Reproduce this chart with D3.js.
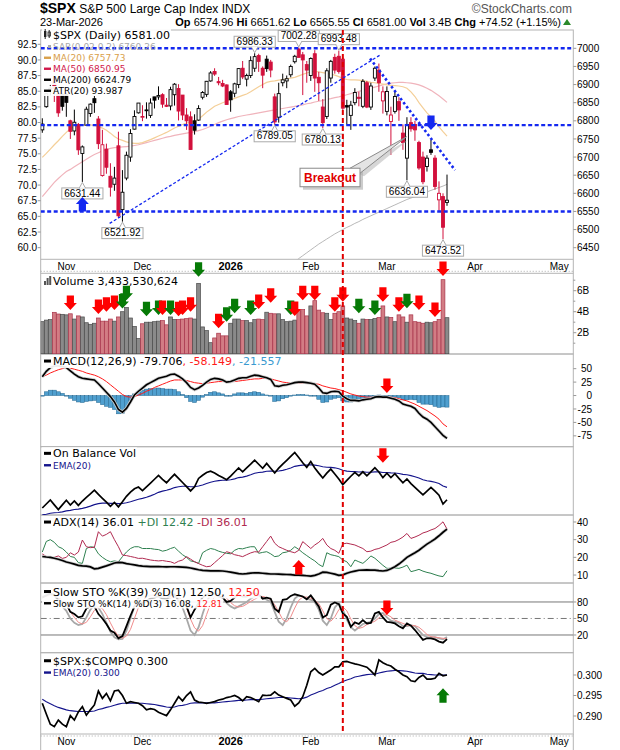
<!DOCTYPE html>
<html>
<head>
<meta charset="UTF-8">
<style>
  * { margin: 0; padding: 0; box-sizing: border-box; }
  html, body { width: 620px; height: 750px; background: #fff; overflow: hidden; }
  svg { display: block; }
</style>
</head>
<body>
<div id="chart"></div>
<script src="https://cdn.jsdelivr.net/npm/d3@7"></script>
<script>
// ---- categories: trading days from 24-Oct-2025 ----
var startDay = "2025-10-24";
var holidays = ["2025-11-27", "2025-12-25", "2026-01-01", "2026-01-19", "2026-02-16", "2026-04-03"];
var monthNames = ["Jan","Feb","Mar","Apr","May","Jun","Jul","Aug","Sep","Oct","Nov","Dec"];
var prevClose = 6738.44;

// ---- price (OHLC) ----
var open = [
  6775,6839,6884,6910,6875,6873,6873,6800,6772,6790,
  6710,6788,6820,6861,6805,6649,6722,6647,6625,6731,
  6555,6642,6700,6777,6822,6812,6830,6815,6866,6866,
  6872,6843,6841,6872,6889,6871,6816,6811,6800,6802,
  6865,6873,6910,6936,6908,6903,6899,6880,6876,6900,
  6945,6915,6925,6945,6980,6945,6970,6962,6866,6810,
  6905,6910,6927,6963,6998,6982,6955,6925,6985,6920,
  6838,6812,6918,6975,6978,6970,6842,6815,6850,6865,
  6840,6905,6838,6918,6940,6855,6826,6798,6826,6853,
  6766,6697,6795,6790,6740,6700,6674,6720,6697,6582,
  6591,6574.96];
var high = [
  6807,6877,6901,6920,6885,6876,6877,6803,6831,6794,
  6732,6839,6848,6869,6813,6775,6737,6683,6673,6770,
  6664,6715,6777,6829,6849,6843,6851,6862,6866,6895,
  6876,6863,6894,6904,6901,6871,6835,6826,6818,6843,
  6882,6910,6937,6945,6921,6913,6900,6885,6905,6945,
  6965,6930,6978,6986.33,6985,6950,6980,6968,6875,6905,
  6930,6925,6955,6982,7002.28,6990,6965,6975,6995,6935,
  6860,6945,6968,6985,6993.48,6975,6858,6855,6890,6880,
  6915,6910,6905,6950,6958,6895,6895,6839,6880,6865,
  6790,6810,6810,6800,6745,6715,6705,6747,6705,6633,
  6600,6651.62];
var low = [
  6767,6836,6870,6852,6811,6828,6811,6750,6760,6706,
  6631.44,6788,6811,6822,6722,6646,6654,6591,6607,6532,
  6521.92,6636,6687,6776,6820,6799,6806,6808,6834,6858,
  6836,6838,6829,6842,6801,6802,6775,6720,6762,6800,
  6859,6866,6908,6924,6898,6893,6845,6825,6865,6890,
  6915,6895,6918,6935,6935,6890,6935,6920,6789.05,6795,
  6895,6890,6920,6958,6975,6871,6905,6910,6880,6855,
  6780.13,6805,6905,6930,6930,6830,6790,6775,6843,6840,
  6835,6835,6830,6910,6880,6820,6815,6706,6820,6800,
  6720,6636.04,6770,6745,6665,6625,6660,6706,6610,6550,
  6473.52,6565.55];
var close = [
  6791,6875,6890,6889,6822,6840,6851,6771,6796,6720,
  6728,6832,6846,6850,6737,6734,6672,6617,6642,6538,
  6603,6705,6765,6812,6849,6812,6829,6849,6857,6870,
  6846,6840,6886,6901,6827,6816,6800,6721,6774,6834,
  6878,6909,6932,6929,6905,6896,6845,6858,6902,6944,
  6921,6925,6966,6977,6964,6926,6944,6940,6797,6875,
  6913,6916,6950,6978,6975,6968,6940,6972,6918,6905,
  6795,6938,6964,6940,6936,6835,6838,6843,6878,6862,
  6909,6838,6896,6945,6905,6880,6881,6816,6867,6830,
  6740,6790,6778,6775,6670,6632,6697,6713,6619,6600,
  6506.48,6581.00];

// ---- overlays ----
var ma20 = [
  6699,6710,6722,6734,6745,6757,6768,6778,6784,6786,
  6788,6789,6789,6787,6784,6780,6774,6766,6757,6750,
  6746,6742,6739,6738,6738,6740,6744,6748,6753,6758,
  6763,6768,6774,6780,6785,6790,6794,6796,6798,6805,
  6814,6824,6832,6840,6845,6850,6854,6858,6862,6866,
  6870,6874,6880,6887,6894,6900,6906,6909,6910,6912,
  6914,6916,6918,6920,6924,6928,6932,6935,6936,6935,
  6933,6931,6929,6926,6922,6917,6914,6913,6913,6912,
  6911,6909,6906,6905,6903,6901,6899,6898,6897,6896,
  6894,6890,6880,6867,6850,6836,6822,6811,6799,6783,
  6770,6757.73];
var ma50 = [
  6591,6604,6617,6630,6641,6651,6660,6666,6673,6680,
  6687,6694,6701,6707,6712,6717,6721,6724,6726,6727,
  6728,6729,6730,6732,6734,6737,6740,6743,6746,6749,
  6752,6755,6757,6760,6762,6764,6766,6768,6770,6773,
  6776,6780,6785,6790,6795,6799,6803,6806,6809,6812,
  6814,6816,6818,6820,6822,6824,6826,6828,6830,6832,
  6834,6836,6838,6840,6842,6844,6847,6849,6852,6854,
  6856,6859,6861,6864,6866,6869,6872,6875,6878,6881,
  6884,6887,6890,6893,6896,6899,6902,6904,6905,6906,
  6906,6905,6904,6902,6899,6895,6890,6884,6877,6869,
  6860,6850.95];
var ma200Start = 63;
var ma200 = [6412,6420,6428,6436,6444,6452,6460,6467,6474,6481,
  6488,6494,6500,6506,6511,6517,6522,6528,6533,6538,
  6543,6548,6553,6558,6563,6568,6573,6578,6583,6587,
  6591,6596,6600,6604,6608,6612,6616,6620,6624.79];

// ---- volume (billions) ----
var volume = [
  3.05,3.2,3.25,3.94,3.78,3.75,3.7,3.8,3.3,3.6,
  3.5,2.95,2.8,2.9,3.4,3.1,3.1,3.3,3.1,3.5,
  4.0,4.4,3.4,2.6,1.45,2.85,3.0,3.0,3.05,3.1,
  3.15,2.75,3.5,3.25,3.25,3.3,3.35,3.4,3.3,6.7,
  2.55,2.2,1.05,1.5,1.95,1.7,1.7,2.9,3.3,3.3,
  3.15,3.15,2.95,3.25,3.3,3.25,3.95,3.85,3.8,3.8,
  3.25,3.05,3.1,3.2,4.1,4.2,3.6,4.55,5.05,4.15,
  3.9,3.85,3.25,3.85,4.0,4.55,3.4,3.3,3.15,2.9,
  3.3,3.25,3.25,3.35,3.45,4.55,3.5,3.45,3.05,3.7,
  3.5,3.0,3.7,3.05,3.0,2.9,3.0,2.95,3.05,3.25,
  7.05,3.43];

// ---- MACD(12,26,9) ----
var macd = [
  35,45,52,55,55,54,52,46,40,35,
  32,31,30,29,22,14,6,-2,-12,-26,
  -31,-24,-12,1,8,14,20,24,28,32,
  34,36,39,40,36,31,24,15,11,14,
  19,25,30,32,31,29,25,26,29,32,
  33,33,36,38,37,35,33,30,18,17,
  19,20,22,24,25,25,24,23,21,14,
  5,4,7,8,7,-1,-6,-9,-9,-10,
  -8,-7,-6,-3,-2,-3,-3,-5,-7,-10,
  -16,-18,-20,-24,-33,-40,-44,-50,-58,-66,
  -74,-79.706];
var macdSignal = [
  35,38,42,45,48,50,52,51,49,47,
  45,42,40,38,35,31,26,20,14,8,
  2,-2,-3,-2,1,4,8,11,15,18,
  21,24,27,29,29,29,28,26,24,23,
  22,23,24,25,26,26,26,26,26,27,
  28,29,30,31,31,32,32,31,29,27,
  25,24,23,23,23,23,23,23,22,21,
  18,16,14,13,11,9,6,3,1,-1,
  -2,-3,-3,-3,-3,-3,-3,-3,-4,-6,
  -8,-10,-13,-16,-20,-24,-28,-33,-38,-44,
  -52.8,-58.149];
var macdHist = [
  0,7,10,10,7,4,0,-5,-9,-12,
  -13,-11,-10,-9,-13,-17,-20,-22,-26,-34,
  -33,-22,-9,3,7,10,12,13,13,14,
  13,12,12,11,7,2,-4,-11,-13,-9,
  -3,2,6,7,5,3,-1,0,3,5,
  5,4,6,7,6,3,1,-1,-11,-10,
  -6,-4,-1,1,2,2,1,0,-1,-7,
  -13,-12,-7,-5,-4,-10,-12,-12,-10,-9,
  -6,-4,-3,0,1,0,0,-2,-3,-4,
  -8,-8,-7,-8,-13,-16,-16,-17,-20,-22,
  -21.2,-21.557];

// ---- On Balance Volume (billions, relative) ----
var obv = [
  0,3.2,6.45,2.51,-1.27,2.48,6.18,2.38,5.68,2.08,
  5.58,8.53,11.33,14.23,10.83,7.73,4.63,1.33,4.43,0.93,
  4.93,9.33,12.73,15.33,16.78,13.93,16.93,19.93,22.98,26.08,
  22.93,20.18,23.68,26.93,23.68,20.38,17.03,13.63,16.93,23.63,
  26.18,28.38,29.43,27.93,25.98,24.28,22.58,25.48,28.78,32.08,
  28.93,32.08,35.03,38.28,34.98,31.73,35.68,31.83,28.03,31.83,
  35.08,38.13,41.23,44.43,40.33,36.13,32.53,37.08,32.03,27.88,
  23.98,27.83,31.08,27.23,23.23,18.68,22.08,25.38,28.53,25.63,
  28.93,25.68,28.93,32.28,28.83,24.28,27.78,24.33,27.38,23.68,
  20.18,23.18,19.48,16.43,13.43,10.53,13.53,16.48,13.43,10.18,
  3.13,6.56];
var obvEma = [
  -5.5,-5.0,-4.2,-3.8,-3.6,-3.1,-2.3,-1.9,-1.2,-0.9,
  -0.3,0.5,1.5,2.7,3.5,3.9,4.0,3.7,3.8,3.5,
  3.6,4.2,5.0,6.0,7.0,7.7,8.6,9.7,11.0,12.5,
  13.5,14.2,15.1,16.3,17.0,17.4,17.4,17.0,17.0,17.6,
  18.4,19.5,20.6,21.4,21.9,22.2,22.3,22.6,23.3,24.3,
  24.7,25.5,26.5,27.8,28.4,28.7,29.4,29.6,29.4,29.6,
  30.1,30.9,31.9,33.3,33.9,34.3,34.3,34.6,34.3,33.8,
  33.0,32.6,32.5,32.1,31.3,30.2,29.5,29.2,29.1,28.8,
  28.9,28.6,28.6,28.9,28.9,28.4,28.4,28.1,28.0,27.6,
  26.9,26.6,25.9,25.0,23.9,22.6,21.8,21.3,20.6,19.6,
  17.6,16.5];

// ---- ADX(14) ----
var adx = [
  20.5,20.2,20,19.5,18.9,18.2,17.4,16.8,16.2,15.5,
  15.2,15,14.6,13.5,13.8,14.5,15.2,16,16.8,17.2,
  17,16.5,16.1,15.7,15.3,15,14.9,14.8,14.8,14.8,
  14.7,14.6,14.7,14.7,14.6,14.5,14.3,14,13.5,13,
  12.6,12.5,12.4,12.4,12.4,12.3,12,11.6,11.2,10.8,
  10.6,10.8,11.1,11.3,11.2,11,10.8,10.6,10.6,10.5,
  10.4,10.3,10.2,10,9.9,9.8,9.6,9.4,9.8,10.6,
  11.6,11.5,11,10.5,9.8,10.1,11,11.7,12.2,12.7,
  12.8,12.9,12.8,12.8,12.5,12.3,12.6,13.5,14.7,16.2,
  18,20,21.3,22.6,24,25.8,27.5,28.9,30.4,32.2,
  34.2,36.01];
var plusDI = [
  23,29,30,28.5,26,25,23,20.5,20,17,
  16.6,25,26,25.7,22,20,18.5,17.5,18,17.5,
  20.4,23,25,26,26,25,25,25,24.6,24.4,
  23.5,24,25,25.7,23.5,21.5,20,18,17.5,16.6,
  22.6,24,25,24.5,23.5,22.8,22.3,22,24,25,
  24.8,25.5,26,26,22.3,22.8,23.2,22,20.4,20.8,
  22.6,23,24,26,24.5,22.6,21,19.4,18,16,
  14.7,22.6,21.5,21,20.4,18.5,17.5,14.7,18.5,17.5,
  16.6,18.5,20.8,19.5,17.5,15.5,13.8,13.8,14,13.8,
  14.5,15.6,11.9,12.5,13.2,12.2,11.5,11,10.2,9.5,
  9.1,12.42];
var minusDI = [
  21.9,20.5,19.4,20,20.8,19.4,20,22.6,21.3,23,
  29.8,26,25.5,25.7,34.5,32,33,34.5,30,26,
  21.3,21,20.5,20,19.4,19.5,19,18.5,18.2,18,
  18.2,17.8,17.5,16.6,17.8,18.5,20.4,19,17.5,16.5,
  15.5,14.7,15,17,19,21,23.2,22.5,21.5,21,
  20.4,21.5,22.5,23.2,23,26,29,32,28,26,
  25,24,23.2,22.6,24,28.9,27,25,27,28.5,
  30.7,27,25,24,22.3,27.6,28,27.5,27,26,
  25,23.2,23.5,24.5,25,26,27,28.5,29,30.1,
  31.5,33.5,30.7,31.5,32.5,33.8,34.5,35.5,36.3,38,
  40.1,36.01];

// ---- Slow stochastics ----
var sto39 = [
  88,92,95,93,84,80,76,62,58,52,
  54,68,72,72,58,50,40,28,24,14,
  18,36,55,72,82,78,82,86,88,90,
  86,85,92,94,82,77,72,52,66,78,
  88,93,96,95,90,88,80,82,88,93,
  90,90,95,96,93,86,88,86,68,62,
  84,85,91,94,92,90,85,92,82,72,
  52,56,75,79,76,59,53,35,43,40,
  47,41,42,59,62,52,44,43,41,36,
  32,41,37,29,20,11,14,14,12,8,
  6,12.5];
var sto14k = [
  90,92,94,92,82,72,64,50,42,38,
  40,52,66,76,70,58,42,26,16,12,
  13,28,50,72,88,90,90,92,93,94,
  90,86,88,92,86,70,50,28,20,34,
  58,80,94,96,94,88,78,72,68,72,
  76,80,86,90,92,88,84,80,62,44,
  38,50,70,86,92,90,86,84,80,66,
  46,38,50,70,78,66,48,34,28,34,
  40,42,44,50,58,60,52,46,44,42,
  36,36,38,36,28,20,16,15,16,14,
  12,16.08];
var sto14d = [
  88,90,92,93,89,82,73,62,52,43,
  40,43,53,65,71,68,57,42,28,18,
  14,18,30,50,70,83,89,91,92,93,
  92,90,88,89,89,83,69,49,33,27,
  37,57,77,90,95,93,87,79,73,71,
  72,76,81,85,89,90,88,84,75,62,
  48,44,53,69,83,89,89,87,83,77,
  64,50,45,53,66,71,64,49,37,32,
  34,39,42,45,51,56,57,53,47,44,
  41,38,37,37,34,28,21,17,16,15,
  14,12.81];

// ---- $SPX:$COMPQ ratio ----
var ratio = [
  .2931,.2905,.2880,.2874,.2890,.2880,.2874,.2901,.2890,.2910,
  .2923,.2902,.2915,.2927,.2961,.2943,.2955,.2937,.2961,.2963,
  .2950,.2931,.2935,.2933,.2931,.2925,.2915,.2918,.2916,.2909,
  .2905,.2901,.2915,.2931,.2947,.2937,.2950,.2959,.2939,.2934,
  .2933,.2931,.2933,.2935,.2939,.2941,.2945,.2947,.2950,.2945,
  .2937,.2947,.2945,.2940,.2935,.2951,.2950,.2951,.2959,.2951,
  .2947,.2943,.2939,.2924,.2932,.2947,.2975,.3008,.3016,.3006,
  .3000,.3006,.3012,.3020,.3020,.3032,.3033,.3030,.3027,.3025,
  .3022,.3019,.3010,.3000,.3037,.3030,.3025,.3022,.3014,.3008,
  .3000,.2996,.2986,.2984,.2994,.3000,.2990,.2990,.2992,.3004,
  .2998,.3000];
var ratioEma = [
  .2941,.2935,.2930,.2925,.2921,.2918,.2915,.2913,.2912,.2911,
  .2911,.2911,.2911,.2912,.2916,.2918,.2921,.2923,.2926,.2929,
  .2931,.2931,.2931,.2931,.2931,.2931,.2930,.2929,.2928,.2926,
  .2924,.2922,.2921,.2922,.2925,.2926,.2928,.2931,.2932,.2932,
  .2932,.2932,.2932,.2932,.2933,.2934,.2935,.2936,.2937,.2938,
  .2938,.2939,.2940,.2940,.2940,.2941,.2942,.2943,.2944,.2945,
  .2945,.2945,.2944,.2943,.2942,.2943,.2946,.2951,.2955,.2959,
  .2962,.2967,.2970,.2975,.2979,.2984,.2988,.2991,.2995,.2997,
  .2999,.3001,.3002,.3002,.3005,.3007,.3009,.3010,.3011,.3011,
  .3010,.3009,.3007,.3005,.3004,.3004,.3002,.3001,.3000,.3000,
  .3000,.3000];

// ---- annotations (index, value) ----
var levelLines = [7000, 6788, 6550];
var trendRise = [[16.8, 6517], [84.3, 6981.5]];
var trendFall = [[81.8, 6972], [103, 6664]];
var priceTags = [[53, 6986.33, 1], [64, 7002.28, 1], [74, 6993.48, 1], [58, 6789.05, 0],
  [70, 6780.13, 0], [10, 6631.44, 0], [20, 6521.92, 0], [91, 6636.04, 0], [100, 6473.52, 0]];
var priceArrows = [[10, 6590, "blue", "up"], [97, 6775, "blue", "down"]];
var breakout = { text: "Breakout", i: 71.8, v: 6643.7, tipI: 90.9, tipV: 6756 };
var markerDay = 75;
var volArrows = [
  [7,"red",4.16],[14,"red",3.78],[16,"red",4.0],[18,"red",4.16],[20,"green",4.3],[21,"green",5.1],
  [26,"green",3.56],[29,"green",3.69],[30,"red",3.69],[32,"green",3.69],[34,"red",3.56],[35,"red",3.69],
  [37,"red",4.0],[39,"green",7.33],[44,"red",2.42],[46,"green",3.05],[48,"green",3.85],[52,"green",3.69],
  [54,"red",4.26],[57,"red",4.86],[62,"green",3.69],[63,"red",3.59],[65,"red",5.1],[68,"red",5.1],
  [73,"red",4.0],[75,"red",4.95],[79,"green",3.85],[83,"green",3.69],[85,"red",4.95],[89,"red",4.0],
  [91,"green",4.32],[94,"red",4.16],[98,"red",3.5],[100,"red",7.4]];
var macdArrows = [[86, "red", 4.5, "down"]];
var obvArrows = [[85, "red", 36.2, "down"]];
var adxArrows = [[64, "red", 18.5, "up"]];
var stoArrows = [[86, "red", 56.4, "down"]];
var ratioArrows = [[100, "green", 0.29676, "up"]];

// =================== drawing ===================
var W = 620, H = 750, L = 40.7, R = 573.3;
var P = {
  price: [30, 259.3], vol: [273.3, 354], macd: [354, 446.7], obv: [446.7, 515],
  adx: [515, 583], sto: [583, 652.7], ratio: [652.7, 734]
};
var COL = { red: "#ff0000", green: "#067a06", blue: "#1428f0" };
var CANDLE_RED = "#d2103c";
var SANS = "'Liberation Sans', Arial, sans-serif";
var VERD = "'DejaVu Sans', Verdana, sans-serif";

function buildDays(startISO, count, hol) {
  var out = [], d = new Date(startISO + "T00:00:00Z");
  while (out.length < count) {
    var iso = d.toISOString().slice(0, 10), dow = d.getUTCDay();
    if (dow !== 0 && dow !== 6 && hol.indexOf(iso) < 0) out.push(new Date(d.getTime()));
    d.setUTCDate(d.getUTCDate() + 1);
  }
  return out;
}
var days = buildDays(startDay, 133, holidays);
var N = close.length;
var idx = d3.range(N);

var x = d3.scaleLinear().domain([0, 132]).range([42.3, 42.3 + 4.007 * 132]);
var yP = d3.scaleLinear().domain([6418, 7050.5]).range([P.price[1], P.price[0]]);
var yLeft = d3.scaleLinear().domain([58.14, 94.785]).range([P.price[1], P.price[0]]);
var yV = d3.scaleLinear().domain([0, 7.657]).range([353.7, P.vol[0]]);
var yM = d3.scaleLinear().domain([-95.2, 77.3]).range([P.macd[1], P.macd[0]]);
var yO = d3.scaleLinear().domain([-5.6, 49.0]).range([P.obv[1], P.obv[0]]);
var yA = d3.scaleLinear().domain([5.5, 43.95]).range([P.adx[1], P.adx[0]]);
var yS = d3.scaleLinear().domain([-12.2, 114.5]).range([P.sto[1], P.sto[0]]);
var yR = d3.scaleLinear().domain([0.28561, 0.30544]).range([P.ratio[1], P.ratio[0]]);

var svg = d3.select("#chart").append("svg").attr("width", W).attr("height", H)
  .attr("font-family", SANS);
svg.append("rect").attr("width", W).attr("height", H).attr("fill", "#fff");
var defs = svg.append("defs");
Object.keys(P).forEach(function(k) {
  defs.append("clipPath").attr("id", "clip-" + k).append("rect")
    .attr("x", L).attr("y", P[k][0]).attr("width", R - L).attr("height", P[k][1] - P[k][0]);
});

function isUp(i) { return close[i] >= (i ? close[i - 1] : prevClose); }

// ---- header ----
var t1 = svg.append("text").attr("x", 40).attr("y", 13).attr("font-size", 12);
t1.append("tspan").attr("font-weight", "bold").attr("font-size", 14).text("$SPX");
t1.append("tspan").text(" S&P 500 Large Cap Index  INDX");
svg.append("text").attr("x", 572).attr("y", 13).attr("text-anchor", "end")
  .attr("font-size", 12).attr("fill", "#555").text("\u00A9StockCharts.com");
svg.append("text").attr("x", 40).attr("y", 26).attr("font-size", 11).text("23-Mar-2026");
var t2 = svg.append("text").attr("x", 561).attr("y", 26).attr("text-anchor", "end").attr("font-size", 11);
[["Op", " 6574.96  "], ["Hi", " 6651.62  "], ["Lo", " 6565.55  "], ["Cl", " 6581.00  "],
 ["Vol", " 3.4B  "], ["Chg", " +74.52 (+1.15%)"]].forEach(function(p) {
  t2.append("tspan").attr("font-weight", "bold").text(p[0]);
  t2.append("tspan").text(p[1]);
});
svg.append("path").attr("d", "M563,25 L567,19 L571,25 Z").attr("fill", "#2b8a2b");

// ---- panel frames ----
Object.keys(P).forEach(function(k) {
  svg.append("rect").attr("x", L).attr("y", P[k][0]).attr("width", R - L)
    .attr("height", P[k][1] - P[k][0]).attr("fill", "none").attr("stroke", "#b4b4b4");
});
[[P.price[1], P.vol[0]], [P.ratio[1], H]].forEach(function(s) {
  svg.append("line").attr("x1", L).attr("x2", L).attr("y1", s[0]).attr("y2", s[1]).attr("stroke", "#b4b4b4");
  svg.append("line").attr("x1", R).attr("x2", R).attr("y1", s[0]).attr("y2", s[1]).attr("stroke", "#b4b4b4");
});
[271.3, 736].forEach(function(yy) {
  svg.append("line").attr("x1", L).attr("x2", R).attr("y1", yy).attr("y2", yy)
    .attr("stroke", "#aaa").attr("stroke-dasharray", "1,2");
});

// month labels
var months = [];
for (var i = 1; i < days.length; i++) {
  if (days[i].getUTCMonth() !== days[i - 1].getUTCMonth()) {
    var m = days[i].getUTCMonth();
    months.push({ i: i, label: m === 0 ? String(days[i].getUTCFullYear()) : monthNames[m], bold: m === 0 });
  }
}
[270, 745].forEach(function(yy) {
  svg.selectAll(null).data(months).enter().append("text")
    .attr("x", function(d) { return x(d.i); }).attr("y", yy)
    .attr("text-anchor", "middle").attr("font-size", function(d) { return d.bold ? 11 : 10; })
    .attr("font-weight", function(d) { return d.bold ? "bold" : "normal"; })
    .text(function(d) { return d.label; });
});

// right axis helper
function rightAxis(scale, ticks, fmt, anchor) {
  ticks.forEach(function(t) {
    var yy = scale(t);
    svg.append("line").attr("x1", R).attr("x2", R + 3).attr("y1", yy).attr("y2", yy).attr("stroke", "#999");
    svg.append("text").attr("x", anchor === "end" ? 592 : 577).attr("y", yy + 3.6)
      .attr("text-anchor", anchor || "start").attr("font-size", 10).text(fmt(t));
  });
}
rightAxis(yP, d3.range(6450, 7001, 50), function(t) { return t; });
d3.range(60, 92.6, 2.5).forEach(function(t) {
  var yy = yLeft(t);
  svg.append("line").attr("x1", L - 3).attr("x2", L).attr("y1", yy).attr("y2", yy).attr("stroke", "#999");
  svg.append("text").attr("x", 37).attr("y", yy + 3.6).attr("text-anchor", "end")
    .attr("font-size", 10).text(t.toFixed(1));
});
[1, 3, 5, 7].forEach(function(t) {
  svg.append("line").attr("x1", R).attr("x2", R + 2).attr("y1", yV(t)).attr("y2", yV(t)).attr("stroke", "#999");
});
rightAxis(yV, [2, 4, 6], function(t) { return t + "B"; });
rightAxis(yM, [50, 25, 0, -25, -50, -75], function(t) { return t; }, "end");
rightAxis(yA, [10, 20, 30, 40], function(t) { return t; });
rightAxis(yS, [20, 50, 80], function(t) { return t; });
rightAxis(yR, [0.290, 0.295, 0.300], function(t) { return t.toFixed(3); });

// ---- price panel ----
var gP = svg.append("g").attr("clip-path", "url(#clip-price)");
function lineFor(scale, arr, offset) {
  return d3.line().defined(function(d) { return d != null; })
    .x(function(d, k) { return x(k + (offset || 0)); }).y(function(d) { return scale(d); })(arr);
}
gP.append("path").attr("d", lineFor(yP, ma50)).attr("fill", "none").attr("stroke", "#f0b4bc").attr("stroke-width", 1.2);
gP.append("path").attr("d", lineFor(yP, ma20)).attr("fill", "none").attr("stroke", "#f4cf98").attr("stroke-width", 1.2);
gP.append("path").attr("d", lineFor(yP, ma200, ma200Start)).attr("fill", "none").attr("stroke", "#b8b8b8").attr("stroke-width", 1);

idx.forEach(function(i) {
  var col = isUp(i) ? "#000" : CANDLE_RED;
  var hollow = close[i] >= open[i];
  var cx = x(i);
  gP.append("line").attr("x1", cx).attr("x2", cx).attr("y1", yP(high[i])).attr("y2", yP(low[i]))
    .attr("stroke", col).attr("stroke-width", 1);
  var top = yP(Math.max(open[i], close[i])), bot = yP(Math.min(open[i], close[i]));
  gP.append("rect").attr("x", cx - 1.5).attr("y", top).attr("width", 3).attr("height", Math.max(bot - top, 0.8))
    .attr("fill", hollow ? "#fff" : col).attr("stroke", col).attr("stroke-width", 0.9);
});

levelLines.forEach(function(v) {
  gP.append("line").attr("x1", L).attr("x2", R).attr("y1", yP(v)).attr("y2", yP(v))
    .attr("stroke", COL.blue).attr("stroke-width", 2.4).attr("stroke-dasharray", "4,2.5");
});
gP.append("line").attr("x1", x(trendRise[0][0])).attr("y1", yP(trendRise[0][1]))
  .attr("x2", x(trendRise[1][0])).attr("y2", yP(trendRise[1][1]))
  .attr("stroke", COL.blue).attr("stroke-width", 1.3).attr("stroke-dasharray", "3,2");
gP.append("line").attr("x1", x(trendFall[0][0])).attr("y1", yP(trendFall[0][1]))
  .attr("x2", x(trendFall[1][0])).attr("y2", yP(trendFall[1][1]))
  .attr("stroke", COL.blue).attr("stroke-width", 2.6).attr("stroke-dasharray", "2.5,2.5");

// arrows
function arrow(cx, tipY, color, dir) {
  var hw = 6.5, sw = 3.6, hh = 7, sh = 7.5, pts, a, b;
  if (dir === "down") {
    a = tipY - hh - sh; b = tipY - hh;
    pts = [[cx - sw, a], [cx + sw, a], [cx + sw, b], [cx + hw, b], [cx, tipY], [cx - hw, b], [cx - sw, b]];
  } else {
    a = tipY + hh + sh; b = tipY + hh;
    pts = [[cx - sw, a], [cx + sw, a], [cx + sw, b], [cx + hw, b], [cx, tipY], [cx - hw, b], [cx - sw, b]];
  }
  svg.append("polygon").attr("points", pts.map(function(p) { return p.join(","); }).join(" "))
    .attr("fill", COL[color] || color);
}

// price tags
priceTags.forEach(function(p) {
  var cx = x(p[0]), py = yP(p[1]), above = p[2] === 1, h = 11;
  var g = svg.append("g");
  var t = g.append("text").attr("font-size", 10).attr("text-anchor", "middle").text(p[1].toFixed(2));
  var w = t.node().getComputedTextLength() + 5;
  var by = above ? py - 6 - h : py + 6;
  var baseY = above ? by + h : by;
  var tipY = above ? py - 0.5 : py + 0.5;
  g.insert("rect", "text").attr("x", cx - w / 2).attr("y", by).attr("width", w).attr("height", h)
    .attr("fill", "#fff").attr("stroke", "#aaa").attr("stroke-width", 1);
  g.insert("polygon", "text").attr("points", [[cx - 3, baseY], [cx, tipY], [cx + 3, baseY]].map(function(q) { return q.join(","); }).join(" "))
    .attr("fill", "#fff").attr("stroke", "#aaa").attr("stroke-width", 1);
  g.insert("line", "text").attr("x1", cx - 2.4).attr("x2", cx + 2.4).attr("y1", baseY).attr("y2", baseY)
    .attr("stroke", "#fff").attr("stroke-width", 1.4);
  t.attr("x", cx).attr("y", by + h - 2.3);
});

// breakout callout
(function() {
  var cx = x(breakout.i), cy = yP(breakout.v), bw = 60, bh = 18.5;
  var bx = cx - bw / 2, by = cy - bh / 2;
  var tx = x(breakout.tipI), ty = yP(breakout.tipV);
  var g = svg.append("g");
  g.append("polygon").attr("points", [[bx + bw - 8, by + 3], [tx + 2, ty + 3], [bx + bw + 4, by + 8]].join(" "))
    .attr("fill", "#bbb").attr("opacity", 0.6);
  g.append("rect").attr("x", bx + 3).attr("y", by + 3).attr("width", bw).attr("height", bh).attr("fill", "#aaa").attr("opacity", 0.6);
  g.append("polygon").attr("points", [[bx + bw - 10, by], [tx, ty], [bx + bw, by + 5]].join(" "))
    .attr("fill", "#e4e4e4").attr("stroke", "#8a8a8a").attr("stroke-width", 1);
  g.append("rect").attr("x", bx).attr("y", by).attr("width", bw).attr("height", bh)
    .attr("fill", "#fff").attr("stroke", "#8a8a8a");
  g.append("text").attr("x", cx).attr("y", by + 13.5).attr("text-anchor", "middle")
    .attr("font-size", 12).attr("font-weight", "bold").attr("fill", "#e00000").text(breakout.text);
})();

priceArrows.forEach(function(a) { arrow(x(a[0]), yP(a[1]), a[2], a[3]); });

// ---- volume ----
var gV = svg.append("g").attr("clip-path", "url(#clip-vol)");
gV.selectAll("rect").data(idx).enter().append("rect")
  .attr("x", function(i) { return x(i) - 1.9; }).attr("width", 3.8)
  .attr("y", function(i) { return yV(volume[i]); })
  .attr("height", function(i) { return yV(0) - yV(volume[i]); })
  .attr("fill", function(i) { return isUp(i) ? "#8a8a8a" : "#d27c84"; })
  .attr("stroke", function(i) { return isUp(i) ? "#4a4a4a" : "#a8344a"; })
  .attr("stroke-width", 0.7);

// ---- MACD ----
var gM = svg.append("g").attr("clip-path", "url(#clip-macd)");
gM.selectAll("rect").data(idx).enter().append("rect")
  .attr("x", function(i) { return x(i) - 2; }).attr("width", 4)
  .attr("y", function(i) { return Math.min(yM(macdHist[i]), yM(0)); })
  .attr("height", function(i) { return Math.max(Math.abs(yM(macdHist[i]) - yM(0)), 0.6); })
  .attr("fill", "#4f9fcf").attr("stroke", "#23668f").attr("stroke-width", 0.5);
gM.append("path").attr("d", lineFor(yM, macdSignal)).attr("fill", "none").attr("stroke", "#ff1a1a").attr("stroke-width", 1);
gM.append("path").attr("d", lineFor(yM, macd)).attr("fill", "none").attr("stroke", "#ccc").attr("stroke-width", 3.2);
gM.append("path").attr("d", lineFor(yM, macd)).attr("fill", "none").attr("stroke", "#000").attr("stroke-width", 1.6);

// ---- OBV ----
var gO = svg.append("g").attr("clip-path", "url(#clip-obv)");
gO.append("path").attr("d", lineFor(yO, obvEma)).attr("fill", "none").attr("stroke", "#14148c").attr("stroke-width", 1.1);
gO.append("path").attr("d", lineFor(yO, obv)).attr("fill", "none").attr("stroke", "#000").attr("stroke-width", 1.7);

// ---- ADX ----
var gA = svg.append("g").attr("clip-path", "url(#clip-adx)");
gA.append("path").attr("d", lineFor(yA, plusDI)).attr("fill", "none").attr("stroke", "#2f8050").attr("stroke-width", 1);
gA.append("path").attr("d", lineFor(yA, minusDI)).attr("fill", "none").attr("stroke", "#b02a50").attr("stroke-width", 1);
gA.append("path").attr("d", lineFor(yA, adx)).attr("fill", "none").attr("stroke", "#ccc").attr("stroke-width", 3.2);
gA.append("path").attr("d", lineFor(yA, adx)).attr("fill", "none").attr("stroke", "#000").attr("stroke-width", 1.7);

// ---- STO ----
var gS = svg.append("g").attr("clip-path", "url(#clip-sto)");
[[80, null], [20, null], [50, "6,3,1,3"]].forEach(function(r) {
  gS.append("line").attr("x1", L).attr("x2", R).attr("y1", yS(r[0])).attr("y2", yS(r[0]))
    .attr("stroke", "#777").attr("stroke-width", 1).attr("stroke-dasharray", r[1]);
});
gS.append("path").attr("d", lineFor(yS, sto14k)).attr("fill", "none").attr("stroke", "#a8a8a8").attr("stroke-width", 1.8);
gS.append("path").attr("d", lineFor(yS, sto14d)).attr("fill", "none").attr("stroke", "#f08c8c").attr("stroke-width", 1);
gS.append("path").attr("d", lineFor(yS, sto39)).attr("fill", "none").attr("stroke", "#000").attr("stroke-width", 1.8);

// ---- ratio ----
var gR = svg.append("g").attr("clip-path", "url(#clip-ratio)");
gR.append("path").attr("d", lineFor(yR, ratioEma)).attr("fill", "none").attr("stroke", "#14148c").attr("stroke-width", 1.1);
gR.append("path").attr("d", lineFor(yR, ratio)).attr("fill", "none").attr("stroke", "#000").attr("stroke-width", 1.7);

// ---- legends ----
function legend(xx, yy, size, parts, swatch, icon, noBg) {
  var g = svg.append("g");
  var bg = g.append("rect").attr("fill", "#fff").attr("opacity", noBg ? 0 : 0.92);
  var t = g.append("text").attr("x", xx + 10).attr("y", yy).attr("font-size", size).attr("font-family", VERD);
  parts.forEach(function(p) { t.append("tspan").attr("fill", p[1]).text(p[0]); });
  var bb = t.node().getBBox();
  bg.attr("x", xx - 1).attr("y", bb.y).attr("width", bb.x + bb.width - xx + 2).attr("height", bb.height);
  var mid = yy - size * 0.36;
  if (swatch) g.append("line").attr("x1", xx + 1).attr("x2", xx + 8).attr("y1", mid).attr("y2", mid)
    .attr("stroke", swatch).attr("stroke-width", size > 10 ? 3 : 2.4);
  if (icon === "candle") {
    g.append("rect").attr("x", xx + 1).attr("y", yy - 8).attr("width", 2.4).attr("height", 6).attr("fill", "#222");
    g.append("line").attr("x1", xx + 2.2).attr("x2", xx + 2.2).attr("y1", yy - 10).attr("y2", yy).attr("stroke", "#222");
    g.append("rect").attr("x", xx + 5).attr("y", yy - 7).attr("width", 2.4).attr("height", 4).attr("fill", "#fff").attr("stroke", "#222").attr("stroke-width", 0.8);
    g.append("line").attr("x1", xx + 6.2).attr("x2", xx + 6.2).attr("y1", yy - 9).attr("y2", yy - 1).attr("stroke", "#222");
  }
  if (icon === "bars") {
    [[1, 4], [3.6, 7], [6.2, 9]].forEach(function(b) {
      g.append("rect").attr("x", xx + b[0]).attr("y", yy - b[1]).attr("width", 2).attr("height", b[1]).attr("fill", "#555");
    });
  }
  if (icon === "dot") {
    g.append("rect").attr("x", xx + 5).attr("y", yy - 5).attr("width", 3).attr("height", 3).attr("fill", "#aaa");
  }
  return g;
}
legend(43, 39, 11, [["$SPX (Daily) 6581.00", "#000"]], null, "candle");
legend(43, 50, 9, [["SAR(0.02,0.2) 6760.26", "#a8a8a8"]], null, "dot", true);
legend(43, 61, 9, [["MA(20) 6757.73", "#d9a04a"]], "#d9a04a");
legend(43, 72, 9, [["MA(50) 6850.95", "#d0184a"]], "#d0184a");
legend(43, 83, 9, [["MA(200) 6624.79", "#000"]], "#000");
legend(43, 94, 9, [["ATR(20) 93.987", "#000"]], "#000");
legend(43, 285, 11, [["Volume 3,433,530,624", "#000"]], null, "bars");
legend(43, 365, 11, [["MACD(12,26,9) -79.706", "#000"], [", -58.149", "#ff1a1a"], [", -21.557", "#3a9ad0"]], "#000");
legend(43, 457.3, 11, [["On Balance Vol", "#000"]], "#000");
legend(43, 468.5, 9, [["EMA(20)", "#14148c"]], "#14148c");
legend(43, 526, 11, [["ADX(14) 36.01 ", "#000"], ["+DI 12.42 ", "#2f8050"], ["-DI 36.01", "#b02a50"]], "#000");
legend(43, 595.5, 11, [["Slow STO %K(39) %D(1) 12.50, ", "#000"], ["12.50", "#ff1a1a"]], "#000");
legend(43, 606.5, 9, [["Slow STO %K(14) %D(3) 16.08, ", "#000"], ["12.81", "#ff1a1a"]], "#000");
legend(43, 664.7, 11, [["$SPX:$COMPQ 0.300", "#000"]], "#000");
legend(43, 675.8, 9, [["EMA(20) 0.300", "#14148c"]], "#14148c");

// ---- signal arrows in lower panels ----
volArrows.forEach(function(a) { arrow(x(a[0]), yV(a[2]), a[1], "down"); });
macdArrows.forEach(function(a) { arrow(x(a[0]), yM(a[2]), a[1], a[3]); });
obvArrows.forEach(function(a) { arrow(x(a[0]), yO(a[2]), a[1], a[3]); });
adxArrows.forEach(function(a) { arrow(x(a[0]), yA(a[2]), a[1], a[3]); });
stoArrows.forEach(function(a) { arrow(x(a[0]), yS(a[2]), a[1], a[3]); });
ratioArrows.forEach(function(a) { arrow(x(a[0]), yR(a[2]), a[1], a[3]); });

// ---- vertical marker ----
svg.append("line").attr("x1", x(markerDay)).attr("x2", x(markerDay)).attr("y1", P.price[0]).attr("y2", P.ratio[1])
  .attr("stroke", "#e00000").attr("stroke-width", 2).attr("stroke-dasharray", "5,3");
</script>
</body>
</html>
